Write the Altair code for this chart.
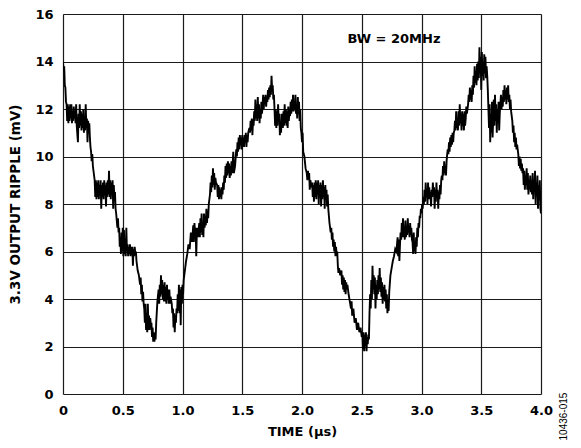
import altair as alt
import pandas as pd

# ---- trace readings (time in µs, ripple in mV), grouped by waveform stretch ----
seg_fall_1 = [
    (0.000, 14.0), (0.005, 13.6), (0.010, 13.8), (0.015, 13.0), (0.020, 12.9), (0.025, 12.3),
    (0.030, 12.2), (0.035, 11.5), (0.040, 12.2), (0.045, 11.4), (0.050, 12.1), (0.055, 11.5),
    (0.060, 12.2), (0.065, 11.6), (0.070, 12.2), (0.075, 11.4), (0.080, 11.9), (0.085, 11.5),
    (0.090, 12.1), (0.095, 11.6), (0.100, 11.9), (0.105, 11.4), (0.110, 12.2), (0.115, 11.3),
    (0.125, 10.6), (0.130, 11.8), (0.135, 11.2), (0.140, 12.2), (0.145, 11.3), (0.150, 11.9),
    (0.155, 11.1), (0.160, 11.8), (0.165, 11.2), (0.170, 12.0), (0.175, 11.0), (0.180, 11.7),
    (0.185, 11.1), (0.190, 12.2), (0.195, 11.2), (0.200, 11.6), (0.205, 10.6), (0.210, 11.5),
    (0.215, 11.1), (0.220, 11.4), (0.225, 10.8), (0.230, 10.4), (0.235, 10.2), (0.240, 9.8),
    (0.245, 10.1), (0.250, 9.6), (0.255, 9.4), (0.260, 9.2), (0.265, 9.0), (0.270, 8.3),
    (0.275, 9.0), (0.280, 8.2), (0.285, 8.9), (0.290, 8.3), (0.295, 9.0), (0.300, 8.2),
    (0.305, 8.8), (0.310, 8.4), (0.315, 9.0), (0.320, 7.8), (0.325, 8.8), (0.330, 8.3),
    (0.335, 8.9), (0.340, 8.2), (0.345, 9.0), (0.350, 8.5), (0.355, 8.8), (0.360, 7.9),
    (0.365, 8.9), (0.370, 8.3), (0.375, 9.0), (0.380, 8.4), (0.385, 9.4), (0.390, 8.3),
    (0.395, 9.0), (0.400, 8.2), (0.405, 8.9), (0.410, 8.4), (0.415, 9.0), (0.420, 7.8),
    (0.425, 8.8), (0.430, 8.3), (0.435, 8.5), (0.440, 7.8), (0.445, 7.6), (0.450, 7.3),
    (0.455, 7.0), (0.460, 7.4), (0.465, 6.8), (0.470, 7.0), (0.475, 6.2), (0.480, 6.6),
    (0.485, 5.9), (0.490, 6.8), (0.495, 6.0), (0.500, 7.0), (0.505, 5.8), (0.510, 6.9),
    (0.515, 5.9), (0.520, 6.4), (0.525, 5.8), (0.530, 7.0), (0.535, 6.0), (0.540, 6.3),
    (0.545, 5.8), (0.550, 6.2), (0.555, 5.9), (0.560, 6.3), (0.565, 5.8), (0.570, 6.2),
    (0.575, 5.9), (0.580, 6.2), (0.585, 5.4), (0.590, 6.1), (0.595, 5.8), (0.600, 6.2),
    (0.605, 5.9), (0.610, 6.0), (0.615, 5.6), (0.625, 5.2), (0.635, 5.0), (0.645, 4.6),
    (0.650, 4.9), (0.655, 4.2), (0.660, 4.6), (0.665, 3.9), (0.670, 4.3), (0.675, 3.8),
    (0.680, 3.6), (0.685, 3.0), (0.690, 3.8), (0.695, 2.7), (0.700, 3.4), (0.705, 2.6),
    (0.710, 3.8), (0.715, 2.7), (0.720, 3.3), (0.725, 2.7), (0.730, 3.2), (0.735, 2.9),
    (0.740, 3.0), (0.745, 2.4), (0.750, 2.8), (0.755, 2.2), (0.760, 2.6), (0.765, 2.2),
    (0.770, 2.5), (0.775, 2.3),
]

seg_trough_1 = [
    (0.780, 3.0), (0.790, 3.9), (0.800, 4.4), (0.805, 3.8), (0.810, 4.6), (0.815, 4.1),
    (0.820, 5.0), (0.825, 4.2), (0.830, 4.8), (0.835, 4.0), (0.840, 4.6), (0.845, 3.9),
    (0.850, 4.7), (0.855, 3.9), (0.860, 4.5), (0.865, 3.8), (0.870, 4.6), (0.875, 4.0),
    (0.880, 4.4), (0.885, 3.8), (0.890, 4.4), (0.895, 3.8), (0.900, 4.1), (0.910, 3.8),
    (0.915, 3.4), (0.920, 3.6), (0.925, 2.8), (0.930, 3.4), (0.935, 2.6), (0.940, 3.3),
    (0.945, 3.0), (0.950, 3.6), (0.955, 3.4), (0.960, 4.2), (0.965, 3.5), (0.970, 4.6),
    (0.975, 3.4), (0.980, 4.4), (0.985, 2.9), (0.990, 4.5), (0.995, 3.8), (1.000, 4.6),
    (1.005, 4.2),
]

seg_rise_1 = [
    (1.010, 4.8), (1.020, 5.2), (1.030, 5.6), (1.040, 5.9), (1.050, 6.3), (1.060, 6.1),
    (1.070, 6.8), (1.080, 6.4), (1.090, 7.1), (1.095, 6.4), (1.100, 7.2), (1.105, 6.8),
    (1.110, 7.0), (1.115, 5.8), (1.120, 6.8), (1.125, 7.0), (1.130, 6.6), (1.140, 7.2),
    (1.145, 6.6), (1.150, 7.4), (1.155, 6.8), (1.160, 7.6), (1.165, 6.7), (1.170, 7.2),
    (1.175, 6.6), (1.180, 7.6), (1.185, 7.0), (1.190, 7.5), (1.195, 7.1), (1.200, 7.8),
    (1.205, 7.2), (1.210, 7.7), (1.215, 7.4), (1.220, 8.0), (1.230, 8.4), (1.235, 8.9),
    (1.240, 8.5), (1.245, 9.2), (1.250, 8.7), (1.255, 9.5), (1.260, 8.8), (1.265, 9.3),
    (1.270, 8.6), (1.275, 9.1), (1.280, 8.9), (1.290, 8.8), (1.295, 8.3), (1.300, 8.8),
    (1.305, 8.2), (1.310, 8.7), (1.315, 8.3), (1.320, 8.6), (1.325, 8.2), (1.330, 8.7),
    (1.335, 8.4), (1.340, 8.9), (1.345, 8.6), (1.350, 9.2), (1.355, 8.9), (1.360, 9.6),
    (1.365, 9.1), (1.370, 9.7), (1.375, 9.2), (1.380, 9.8), (1.385, 9.3), (1.390, 9.7),
    (1.395, 9.1), (1.400, 9.6), (1.405, 9.2), (1.410, 9.8), (1.415, 9.3), (1.420, 9.7),
    (1.425, 10.2), (1.430, 9.3), (1.440, 9.6), (1.450, 10.3), (1.455, 10.0), (1.460, 10.6),
    (1.465, 10.2), (1.470, 10.8), (1.475, 10.3), (1.480, 10.9), (1.485, 10.5), (1.490, 10.8),
    (1.495, 10.3), (1.500, 10.9), (1.505, 10.5), (1.510, 10.8), (1.515, 10.4), (1.520, 10.9),
    (1.525, 10.6), (1.530, 11.0), (1.535, 10.4), (1.540, 10.9), (1.545, 10.6), (1.550, 11.0),
    (1.560, 11.2), (1.565, 11.0), (1.570, 11.5), (1.575, 11.1), (1.580, 11.6), (1.585, 10.9),
    (1.590, 11.5), (1.595, 11.3), (1.600, 11.9), (1.605, 11.5), (1.610, 12.4), (1.615, 11.6),
    (1.620, 12.2), (1.625, 11.5), (1.630, 12.5), (1.635, 11.6), (1.640, 12.2), (1.645, 11.4),
    (1.650, 12.0), (1.655, 11.6), (1.660, 12.3), (1.665, 11.8), (1.670, 12.1),
]

seg_peak_1 = [
    (1.675, 12.6), (1.680, 12.0), (1.685, 12.5), (1.690, 12.2), (1.695, 12.6), (1.700, 12.1),
    (1.705, 12.5), (1.710, 12.3), (1.715, 12.8), (1.720, 12.4), (1.725, 12.9), (1.730, 12.5),
    (1.735, 13.0), (1.740, 12.6), (1.745, 13.4), (1.750, 12.8), (1.755, 13.0), (1.760, 12.4),
    (1.765, 12.6), (1.770, 12.0), (1.775, 11.3), (1.780, 12.0), (1.785, 11.2), (1.790, 11.9),
    (1.795, 11.3), (1.800, 12.2), (1.805, 11.5), (1.810, 11.8), (1.815, 10.9), (1.820, 11.4),
    (1.825, 11.0), (1.830, 11.8), (1.840, 11.2), (1.845, 11.9), (1.850, 11.3), (1.855, 12.2),
    (1.860, 11.4), (1.865, 12.0), (1.870, 11.3), (1.875, 11.9), (1.880, 11.2), (1.885, 12.1),
    (1.890, 11.5), (1.895, 12.0), (1.900, 11.7), (1.905, 12.3), (1.910, 11.8), (1.915, 12.4),
    (1.920, 11.9), (1.925, 12.6), (1.930, 11.9), (1.935, 12.3), (1.940, 12.0), (1.945, 12.6),
    (1.950, 11.8), (1.955, 12.2), (1.960, 11.6), (1.965, 12.5), (1.970, 11.8), (1.975, 12.3),
    (1.980, 11.5), (1.985, 12.0), (1.990, 11.2),
]

seg_fall_2 = [
    (1.995, 11.0), (2.000, 10.6), (2.005, 11.0), (2.010, 10.2), (2.020, 10.0), (2.030, 9.5),
    (2.040, 9.3), (2.045, 9.0), (2.050, 9.4), (2.055, 9.1), (2.060, 9.3), (2.065, 8.6),
    (2.070, 9.0), (2.080, 8.7), (2.085, 8.9), (2.090, 8.3), (2.095, 8.8), (2.100, 8.1),
    (2.105, 8.9), (2.110, 8.3), (2.115, 9.0), (2.120, 8.2), (2.125, 8.9), (2.130, 8.4),
    (2.135, 9.0), (2.140, 8.0), (2.145, 8.8), (2.150, 8.3), (2.155, 8.9), (2.160, 7.9),
    (2.165, 8.8), (2.170, 8.2), (2.175, 9.0), (2.180, 8.3), (2.185, 8.7), (2.190, 7.8),
    (2.195, 8.8), (2.200, 8.2), (2.205, 8.6), (2.210, 7.9), (2.215, 8.4), (2.220, 7.8),
    (2.230, 7.2), (2.240, 6.8), (2.245, 7.0), (2.250, 6.5), (2.255, 6.8), (2.260, 6.2),
    (2.265, 6.5), (2.270, 6.0), (2.275, 6.4), (2.280, 5.8), (2.285, 6.2), (2.290, 5.8),
    (2.295, 6.0), (2.300, 5.4), (2.305, 5.1), (2.310, 5.3), (2.320, 5.0), (2.330, 5.2),
    (2.335, 4.6), (2.340, 5.0), (2.345, 4.4), (2.350, 4.9), (2.355, 4.3), (2.360, 4.8),
    (2.365, 4.2), (2.370, 4.7), (2.375, 4.4), (2.380, 4.6), (2.390, 4.2), (2.400, 3.9),
    (2.410, 3.6), (2.415, 3.9), (2.420, 3.3), (2.430, 3.6), (2.440, 3.0), (2.450, 3.2),
    (2.460, 2.7), (2.470, 3.0), (2.480, 2.6), (2.490, 2.8), (2.500, 2.4), (2.505, 2.6),
    (2.510, 1.9), (2.515, 2.6), (2.520, 1.8), (2.525, 2.5), (2.530, 2.0), (2.535, 2.6),
    (2.540, 1.8), (2.545, 2.4), (2.550, 2.1), (2.555, 2.5), (2.560, 2.3),
]

seg_trough_2 = [
    (2.565, 3.4), (2.570, 4.2), (2.575, 3.6), (2.580, 4.8), (2.585, 4.0), (2.590, 5.4),
    (2.595, 4.4), (2.600, 5.0), (2.605, 4.2), (2.610, 4.9), (2.615, 3.6), (2.620, 4.6),
    (2.625, 4.0), (2.630, 4.8), (2.635, 4.2), (2.640, 5.0), (2.645, 4.4), (2.650, 5.3),
    (2.655, 4.3), (2.660, 4.9), (2.665, 4.1), (2.670, 4.7), (2.675, 3.8), (2.680, 4.5),
    (2.685, 4.0), (2.690, 4.6), (2.695, 3.9), (2.700, 4.4), (2.705, 3.6), (2.710, 4.2),
    (2.715, 3.4), (2.720, 4.0), (2.725, 3.5), (2.730, 4.3),
]

seg_rise_2 = [
    (2.740, 5.0), (2.750, 5.3), (2.760, 5.6), (2.770, 5.8), (2.780, 6.1), (2.790, 6.0),
    (2.800, 6.6), (2.805, 5.8), (2.810, 6.5), (2.815, 5.6), (2.820, 6.3), (2.825, 6.8),
    (2.830, 6.5), (2.835, 7.2), (2.840, 6.6), (2.845, 7.4), (2.850, 6.6), (2.855, 7.0),
    (2.860, 6.5), (2.865, 7.3), (2.870, 6.6), (2.875, 7.0), (2.880, 6.7), (2.885, 7.4),
    (2.890, 6.8), (2.895, 7.0), (2.900, 6.6), (2.905, 7.2), (2.910, 6.7), (2.915, 7.0),
    (2.920, 6.5), (2.925, 6.4), (2.930, 5.9), (2.935, 6.8), (2.940, 6.0), (2.945, 6.4),
    (2.950, 5.9), (2.955, 6.6), (2.960, 6.2), (2.965, 7.0), (2.970, 6.6), (2.975, 7.2),
    (2.980, 7.0), (2.985, 7.5), (2.990, 7.4), (2.995, 7.8), (3.000, 7.6), (3.005, 8.0),
    (3.010, 7.8), (3.015, 8.3), (3.020, 8.0), (3.025, 8.6), (3.030, 8.1), (3.035, 8.9),
    (3.040, 8.3), (3.045, 8.6), (3.050, 8.0), (3.055, 8.9), (3.060, 8.2), (3.065, 8.7),
    (3.070, 8.2), (3.075, 8.5), (3.080, 7.9), (3.085, 8.6), (3.090, 8.3), (3.095, 8.9),
    (3.100, 8.4), (3.105, 8.7), (3.110, 7.8), (3.115, 8.6), (3.120, 8.1), (3.125, 8.9),
    (3.130, 8.3), (3.135, 8.6), (3.140, 7.8), (3.145, 8.5), (3.150, 8.2), (3.155, 8.8),
    (3.160, 8.4), (3.165, 9.0), (3.170, 9.2), (3.175, 9.0), (3.180, 9.6), (3.185, 9.2),
    (3.190, 9.8), (3.195, 9.3), (3.200, 9.6), (3.205, 9.2), (3.210, 9.8), (3.215, 10.1),
    (3.220, 10.3), (3.225, 10.1), (3.230, 10.6), (3.235, 10.2), (3.240, 10.8), (3.245, 10.4),
    (3.250, 10.9), (3.255, 10.5), (3.260, 11.0), (3.265, 10.6), (3.270, 11.0), (3.275, 11.1),
    (3.280, 11.5), (3.285, 11.1), (3.290, 11.9), (3.295, 11.2), (3.300, 11.5), (3.305, 11.1),
    (3.310, 11.9), (3.315, 11.3), (3.320, 12.2), (3.325, 11.4), (3.330, 11.8), (3.335, 11.1),
    (3.340, 11.9), (3.345, 11.3), (3.350, 11.8), (3.355, 11.1), (3.360, 11.9), (3.365, 11.3),
    (3.370, 11.6), (3.375, 12.1), (3.380, 11.8), (3.390, 12.2), (3.395, 12.6), (3.400, 12.3),
    (3.405, 12.9), (3.410, 12.4), (3.415, 12.8), (3.420, 12.3), (3.425, 13.0), (3.430, 12.6),
    (3.435, 13.4), (3.440, 12.9), (3.445, 13.8), (3.450, 13.1), (3.455, 13.6), (3.460, 13.0),
    (3.465, 13.9), (3.470, 13.2),
]

seg_peak_2 = [
    (3.475, 14.0), (3.480, 13.3), (3.485, 14.6), (3.490, 13.5), (3.495, 14.2), (3.500, 12.8),
    (3.505, 14.4), (3.510, 13.4), (3.515, 14.0), (3.520, 13.2), (3.525, 14.3), (3.530, 13.5),
    (3.535, 14.2), (3.540, 13.3), (3.545, 13.8), (3.550, 13.4), (3.555, 12.8), (3.560, 12.0),
    (3.565, 11.2), (3.570, 12.2), (3.575, 10.6), (3.580, 11.8), (3.585, 11.0), (3.590, 12.3),
    (3.595, 10.8), (3.600, 11.6), (3.605, 12.4), (3.610, 11.3), (3.615, 12.6), (3.620, 11.5),
    (3.625, 12.2), (3.630, 11.0), (3.635, 12.0), (3.640, 11.4), (3.645, 12.3), (3.650, 11.1),
    (3.655, 11.8), (3.660, 12.2), (3.665, 12.6), (3.670, 12.0), (3.675, 12.5), (3.680, 12.1),
    (3.685, 12.8), (3.690, 12.3), (3.695, 13.0), (3.700, 12.4), (3.705, 12.8), (3.710, 12.2),
    (3.715, 12.9), (3.720, 12.4), (3.725, 13.0), (3.730, 12.3), (3.735, 12.6), (3.740, 12.0),
    (3.745, 12.4), (3.750, 11.9),
]

seg_fall_3 = [
    (3.760, 11.5), (3.765, 11.0), (3.770, 11.3), (3.775, 10.6), (3.780, 11.0), (3.785, 10.4),
    (3.790, 10.8), (3.795, 10.3), (3.800, 10.5), (3.810, 10.1), (3.815, 9.6), (3.820, 10.0),
    (3.825, 9.5), (3.830, 9.9), (3.835, 9.4), (3.840, 9.7), (3.845, 9.3), (3.850, 9.5),
    (3.855, 8.8), (3.860, 9.4), (3.865, 8.6), (3.870, 9.2), (3.875, 8.8), (3.880, 9.5),
    (3.885, 8.6), (3.890, 9.3), (3.895, 8.4), (3.900, 9.0), (3.905, 8.6), (3.910, 9.2),
    (3.915, 8.5), (3.920, 9.0), (3.925, 8.4), (3.930, 9.3), (3.935, 8.2), (3.940, 8.9),
    (3.945, 8.6), (3.950, 9.4), (3.955, 8.0), (3.960, 8.9), (3.965, 8.4), (3.970, 9.2),
    (3.975, 7.8), (3.980, 8.8), (3.985, 8.2), (3.990, 9.0), (3.995, 7.8), (4.000, 7.6),
]

x_ticks = [0, 0.5, 1.0, 1.5, 2.0, 2.5, 3.0, 3.5, 4.0]
y_ticks = [0, 2, 4, 6, 8, 10, 12, 14, 16]

annot_text = ["BW = 20MHz"]
annot_t = [2.77]
annot_v = [14.95]

code_text = ["10436-015"]
code_t = [4.195]
code_v = [-0.95]

FONT = "DejaVu Sans"

trace = (seg_fall_1 + seg_trough_1 + seg_rise_1 + seg_peak_1 + seg_fall_2
         + seg_trough_2 + seg_rise_2 + seg_peak_2 + seg_fall_3)
df = pd.DataFrame(trace, columns=["t", "v"])
df["order"] = range(len(df))

x_scale = alt.Scale(domain=[0, 4], nice=False, zero=False)
y_scale = alt.Scale(domain=[0, 16], nice=False, zero=False)

x_axis = alt.Axis(
    values=x_ticks,
    labelExpr="datum.value == 0 ? '0' : format(datum.value, '.1f')",
    title="TIME (µs)",
    grid=True, gridColor="#1a1a1a", gridWidth=1.2,
    ticks=False, domain=False,
    labelFont=FONT, labelFontWeight="bold", labelFontSize=13, labelColor="black",
    labelPadding=10, labelOverlap=False, labelFlush=False, labelBound=False,
    titleFont=FONT, titleFontWeight="bold", titleFontSize=13, titleColor="black",
    titlePadding=8,
)
y_axis = alt.Axis(
    values=y_ticks,
    title="3.3V OUTPUT RIPPLE (mV)",
    grid=True, gridColor="#1a1a1a", gridWidth=1.2,
    ticks=False, domain=False,
    labelFont=FONT, labelFontWeight="bold", labelFontSize=13, labelColor="black",
    labelPadding=10, labelOverlap=False, labelFlush=False, labelBound=False,
    titleFont=FONT, titleFontWeight="bold", titleFontSize=13.5, titleColor="black",
    titlePadding=12,
)

line = alt.Chart(df).mark_line(color="black", strokeWidth=1.9, clip=True).encode(
    x=alt.X("t:Q", scale=x_scale, axis=x_axis),
    y=alt.Y("v:Q", scale=y_scale, axis=y_axis),
    order="order:Q",
)

bw = alt.Chart(pd.DataFrame({"t": annot_t, "v": annot_v, "s": annot_text})).mark_text(
    font=FONT, fontWeight="bold", fontSize=13, color="black", align="center", baseline="middle"
).encode(x=alt.X("t:Q", scale=x_scale), y=alt.Y("v:Q", scale=y_scale), text="s:N")

code = alt.Chart(pd.DataFrame({"t": code_t, "v": code_v, "s": code_text})).mark_text(
    font="Liberation Sans", fontSize=10, color="black", angle=270, align="center", baseline="middle"
).encode(x=alt.X("t:Q", scale=x_scale), y=alt.Y("v:Q", scale=y_scale), text="s:N")

chart = alt.layer(line, bw, code).properties(
    width=478, height=380,
    autosize=alt.AutoSizeParams(type="none"),
    padding={"left": 55, "top": 6, "right": 32, "bottom": 46},
).configure_view(stroke="black", strokeWidth=1.6).configure(background="white")

chart.save("out.html", embed_options={"renderer": "svg", "actions": False})
